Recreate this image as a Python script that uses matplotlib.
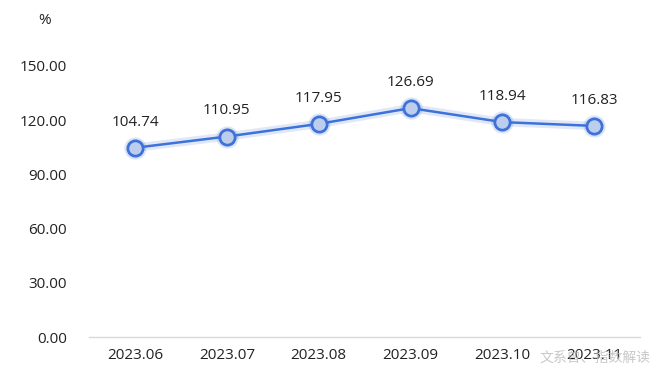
import matplotlib
matplotlib.use("Agg")
import matplotlib.pyplot as plt

categories = ["2023.06", "2023.07", "2023.08", "2023.09", "2023.10", "2023.11"]
values = [104.74, 110.95, 117.95, 126.69, 118.94, 116.83]
yticks = [0, 30, 60, 90, 120, 150]

plt.rcParams['font.family'] = ['Open Sans', 'Noto Sans CJK SC', 'DejaVu Sans']

fig = plt.figure(figsize=(6.6, 3.77), dpi=100)
ax = fig.add_axes([0.135, 0.106, 0.835, 0.719])
x = list(range(len(categories)))

# glow
ax.plot(x, values, color='#3f72d8', lw=6, alpha=0.16, solid_capstyle='round', zorder=2)
ax.plot(x, values, color='#3d72d9', lw=1.8, zorder=3)
ax.plot(x, values, linestyle='none', marker='o', markersize=16, markerfacecolor='#3f72d8',
        markeredgecolor='none', alpha=0.18, zorder=3)
ax.plot(x, values, linestyle='none', marker='o', markersize=11, markerfacecolor='#bccdee',
        markeredgecolor='#3f72d8', markeredgewidth=2, zorder=4)

for xi, v in zip(x, values):
    ax.annotate(f"{v:.2f}", (xi, v), xytext=(0, 13), textcoords='offset points',
                ha='center', va='bottom', fontsize=11, color='#222222')

ax.set_xlim(-0.5, len(categories) - 0.5)
ax.set_ylim(0, 150)
ax.set_yticks(yticks)
ax.set_yticklabels([f"{t:.2f}" for t in yticks])
ax.set_xticks(x)
ax.set_xticklabels(categories)
ax.tick_params(axis='both', length=0, labelsize=11, colors='#222222')
ax.tick_params(axis='y', pad=16)
ax.tick_params(axis='x', pad=8)
for s in ['top', 'right', 'left']:
    ax.spines[s].set_visible(False)
ax.spines['bottom'].set_color('#d9d9d9')
ax.spines['bottom'].set_linewidth(1)

fig.text(45 / 660, 1 - 20 / 377, "%", ha='center', va='center', fontsize=11, color='#222222')
fig.text(0.985, 0.03, "文系曾、指数解读", ha='right', va='bottom', fontsize=10, color='#bbbbbb', alpha=0.8)

fig.savefig("out.png", dpi=100)
